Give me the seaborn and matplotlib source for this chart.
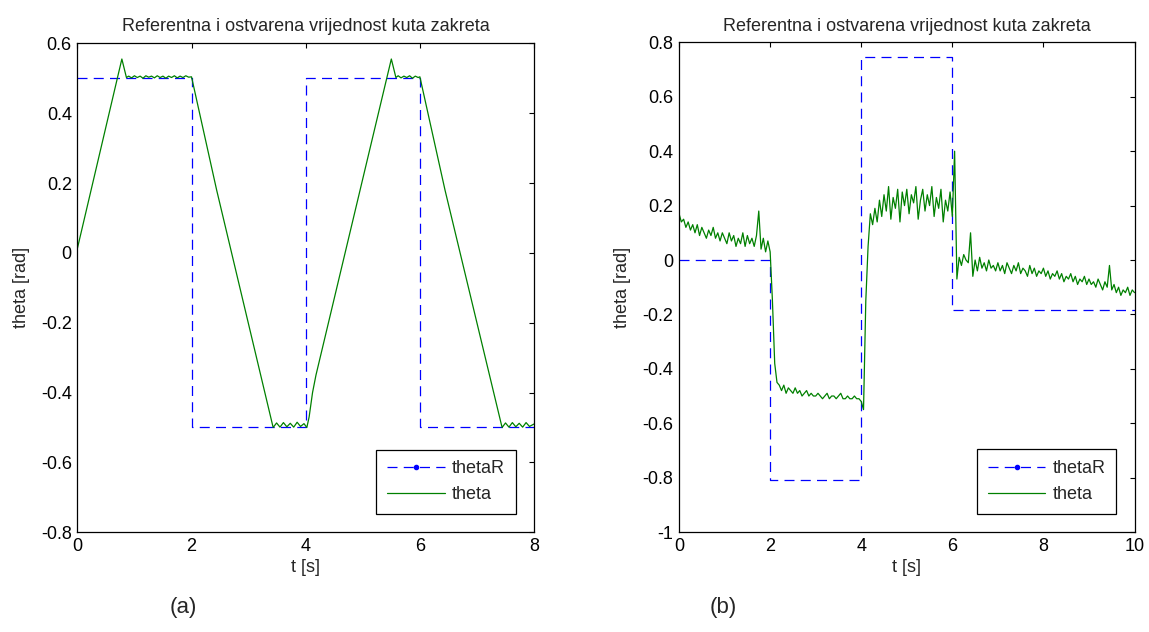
# Referentna i ostvarena vrijednost kuta zakreta - panels (a) and (b)
import pandas as pd
import seaborn as sns
import matplotlib.pyplot as plt
from matplotlib.lines import Line2D
from matplotlib.ticker import MultipleLocator, FuncFormatter

# ---- panel (a) data ----
t_ref_a = [0, 2, 4, 6, 8]
theta_ref_a = [0.5, -0.5, 0.5, -0.5, -0.5]

t_a = [0.00, 0.78, 0.86,
       0.90, 0.95, 1.00, 1.05, 1.10, 1.15, 1.20, 1.25, 1.30, 1.35, 1.40,
       1.45, 1.50, 1.55, 1.60, 1.65, 1.70, 1.75, 1.80, 1.85, 1.90, 1.95,
       2.00, 2.44, 3.43,
       3.49, 3.55, 3.61, 3.67, 3.73, 3.79, 3.85, 3.91, 3.97, 4.02,
       4.06, 4.12, 4.18, 5.50, 5.58,
       5.62, 5.67, 5.72, 5.77, 5.82, 5.87, 5.92, 5.97,
       6.00, 6.44, 7.44,
       7.50, 7.56, 7.62, 7.68, 7.74, 7.80, 7.86, 7.92, 8.00]
theta_a = [0.012, 0.555, 0.502,
           0.506, 0.501, 0.507, 0.502, 0.506, 0.500, 0.507, 0.503, 0.506, 0.501, 0.507,
           0.502, 0.506, 0.500, 0.506, 0.502, 0.507, 0.501, 0.506, 0.502, 0.507, 0.503,
           0.504, 0.18, -0.500,
           -0.487, -0.499, -0.486, -0.498, -0.488, -0.499, -0.485, -0.497, -0.489, -0.500,
           -0.47, -0.40, -0.35, 0.555, 0.502,
           0.507, 0.501, 0.506, 0.502, 0.507, 0.500, 0.506, 0.502,
           0.504, 0.18, -0.500,
           -0.487, -0.499, -0.486, -0.498, -0.488, -0.499, -0.486, -0.497, -0.490]

# ---- panel (b) data ----
t_ref_b = [0, 2, 4, 6, 10]
theta_ref_b = [0.0, -0.81, 0.745, -0.183, -0.183]

# measured angle, sampled every 0.05 s from 0 to 10 s
theta_b = [
    0.17, 0.14, 0.15, 0.12, 0.14, 0.11, 0.13, 0.10, 0.13, 0.09, 0.12, 0.10, 0.08, 0.11, 0.09, 0.12, 0.08, 0.10, 0.07, 0.10,
    0.08, 0.06, 0.10, 0.07, 0.09, 0.05, 0.08, 0.06, 0.10, 0.05, 0.09, 0.06, 0.08, 0.05, 0.09, 0.18, 0.04, 0.08, 0.03, 0.07,
    0.03, -0.15, -0.38, -0.45, -0.46, -0.48, -0.46, -0.49, -0.47, -0.48, -0.49, -0.47, -0.49, -0.48, -0.50, -0.49, -0.48, -0.50, -0.49, -0.50,
    -0.50, -0.49, -0.50, -0.51, -0.50, -0.49, -0.51, -0.50, -0.50, -0.51, -0.50, -0.49, -0.51, -0.51, -0.50, -0.51, -0.51, -0.50, -0.51, -0.51,
    -0.52, -0.55, -0.15, 0.05, 0.17, 0.13, 0.19, 0.14, 0.22, 0.16, 0.24, 0.18, 0.27, 0.15, 0.23, 0.19, 0.26, 0.14, 0.25, 0.20,
    0.26, 0.17, 0.24, 0.21, 0.27, 0.15, 0.22, 0.26, 0.18, 0.24, 0.20, 0.27, 0.16, 0.23, 0.19, 0.26, 0.14, 0.22, 0.18, 0.25,
    0.16, 0.40, -0.07, 0.01, -0.02, 0.02, 0.00, -0.01, 0.10, -0.06, 0.00, -0.04, 0.01, -0.03, -0.01, -0.04, 0.00, -0.03, -0.02, -0.04,
    -0.01, -0.04, -0.02, -0.05, -0.01, -0.03, -0.05, -0.02, -0.04, -0.01, -0.05, -0.03, -0.04, -0.06, -0.02, -0.05, -0.03, -0.06, -0.04, -0.05,
    -0.03, -0.06, -0.04, -0.07, -0.05, -0.06, -0.04, -0.07, -0.05, -0.08, -0.06, -0.07, -0.05, -0.08, -0.06, -0.09, -0.07, -0.08, -0.06, -0.09,
    -0.07, -0.09, -0.08, -0.10, -0.07, -0.09, -0.11, -0.08, -0.10, -0.02, -0.11, -0.09, -0.12, -0.10, -0.13, -0.11, -0.12, -0.10, -0.13, -0.11,
    -0.12]
t_b = [round(i * 0.05, 2) for i in range(len(theta_b))]

# ---- style ----
sns.set_style("white")
plt.rcParams['font.family'] = ['Liberation Sans', 'DejaVu Sans']
plt.rcParams['font.size'] = 13

BLUE = '#0000ff'
GREEN = '#008000'

fig = plt.figure(figsize=(11.49, 6.32), dpi=100)
ax_a = fig.add_axes([0.0673, 0.1578, 0.3975, 0.7737])
ax_b = fig.add_axes([0.5910, 0.1582, 0.3964, 0.7747])


def draw_panel(ax, t_ref, th_ref, t, th, xmax, ymin, ymax):
    ref = pd.DataFrame({'t': t_ref, 'theta': th_ref})
    meas = pd.DataFrame({'t': t, 'theta': th})
    sns.lineplot(data=ref, x='t', y='theta', ax=ax, color=BLUE, lw=0.9,
                 linestyle=(0, (8, 5)), drawstyle='steps-post', estimator=None)
    sns.lineplot(data=meas, x='t', y='theta', ax=ax, color=GREEN, lw=0.9,
                 estimator=None, sort=False)
    ax.set_xlim(0, xmax)
    ax.set_ylim(ymin, ymax)
    ax.xaxis.set_major_locator(MultipleLocator(2))
    ax.yaxis.set_major_locator(MultipleLocator(0.2))
    fmt = FuncFormatter(lambda v, p: f"{round(v, 2) + 0.0:g}")
    ax.xaxis.set_major_formatter(fmt)
    ax.yaxis.set_major_formatter(fmt)
    ax.tick_params(direction='in', length=3.6, width=0.8, pad=4,
                   top=True, right=True, labelsize=13, colors='black')
    for s in ax.spines.values():
        s.set_visible(True)
        s.set_color('black')
        s.set_linewidth(0.9)
    ax.set_title("Referentna i ostvarena vrijednost kuta zakreta", fontsize=13, pad=8.5)
    ax.set_xlabel("t [s]", fontsize=13, labelpad=3)
    ax.set_ylabel("theta [rad]", fontsize=13, labelpad=8)
    handles = [Line2D([], [], color=BLUE, lw=0.9, linestyle=(0, (8, 5)),
                      marker='.', markersize=6),
               Line2D([], [], color=GREEN, lw=0.9)]
    leg = ax.legend(handles, ['thetaR', 'theta'], loc='lower right', numpoints=1,
                    fontsize=13, frameon=True, fancybox=False, framealpha=1,
                    edgecolor='black', borderpad=0.6, handlelength=3.2,
                    handletextpad=0.4, labelspacing=0.5, borderaxespad=1.0)
    leg.get_frame().set_linewidth(0.9)


draw_panel(ax_a, t_ref_a, theta_ref_a, t_a, theta_a, 8, -0.8, 0.6)
draw_panel(ax_b, t_ref_b, theta_ref_b, t_b, theta_b, 10, -1.0, 0.8)

fig.text(183 / 1149, 1 - 607 / 632, "(a)", fontsize=16, ha='center', va='center')
fig.text(723 / 1149, 1 - 607 / 632, "(b)", fontsize=16, ha='center', va='center')

fig.savefig("out.png", dpi=100)
